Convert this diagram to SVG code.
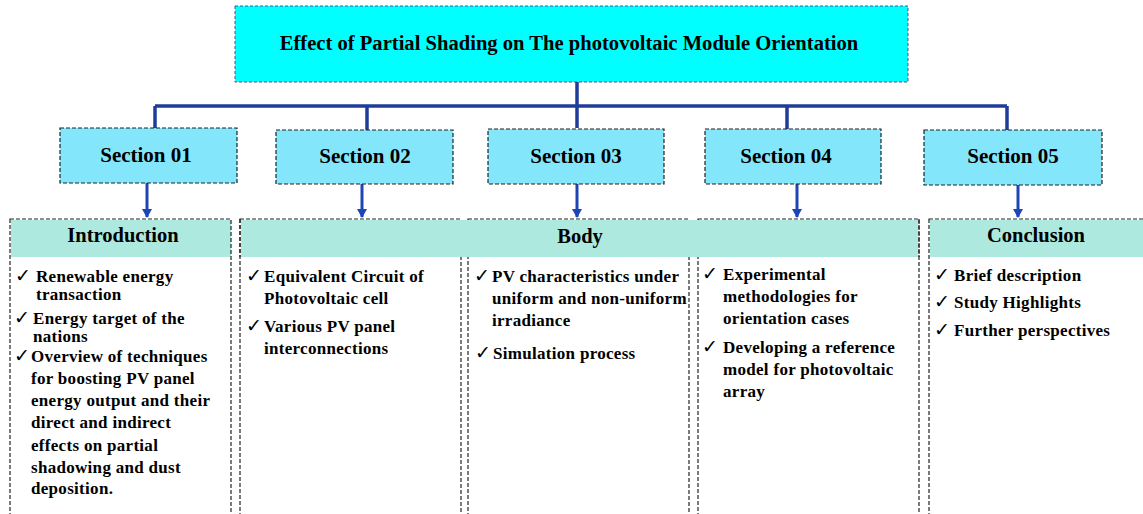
<svg xmlns="http://www.w3.org/2000/svg" width="1143" height="514" viewBox="0 0 1143 514">
<defs>
<marker id="ah" markerWidth="10" markerHeight="10" refX="8" refY="5" orient="auto" markerUnits="userSpaceOnUse">
<path d="M0,0 L9,5 L0,10 Z" fill="#1c45b5"/>
</marker>
</defs>
<style>
text{font-family:'Liberation Serif','Times New Roman','DejaVu Serif',serif;font-weight:bold;fill:#000}
.title{font-size:20.6px;text-anchor:middle}
.sec{font-size:21px;text-anchor:middle}
.hdr{font-size:20.5px;text-anchor:middle}
.t{font-size:17px;letter-spacing:0.3px}
text.ck{font-family:'DejaVu Sans',sans-serif;font-weight:normal;font-size:19px}
.secbox{fill:#84e6fb;stroke:#222;stroke-width:1.2;stroke-dasharray:4 2}
.cbox{fill:#fff;stroke:#222;stroke-width:1.2;stroke-dasharray:4 2}
.hfill{fill:#aee9df}
.conn{stroke:#1f3c9b;stroke-width:3.5;fill:none}
.arr{stroke:#1c45b5;stroke-width:3;fill:none}
</style>

<g id="title">
<rect x="235" y="6" width="673" height="76" fill="#00ffff" stroke="#3a5a9a" stroke-width="1" stroke-dasharray="3 2"/>
<text class="title" x="569" y="50">Effect of Partial Shading on The photovoltaic Module Orientation</text>
</g>

<g id="connectors">
<path class="conn" d="M577,82 V128 M155,106 H1007 M155,106 V128 M367,106 V130 M787,106 V129 M1007,106 V130"/>
<line class="arr" x1="147" y1="183" x2="147" y2="217" marker-end="url(#ah)"/>
<line class="arr" x1="362" y1="184" x2="362" y2="217" marker-end="url(#ah)"/>
<line class="arr" x1="577" y1="184" x2="577" y2="217" marker-end="url(#ah)"/>
<line class="arr" x1="797" y1="184" x2="797" y2="217" marker-end="url(#ah)"/>
<line class="arr" x1="1018" y1="185" x2="1018" y2="217" marker-end="url(#ah)"/>
</g>

<g id="section01"><rect class="secbox" x="60" y="128" width="177" height="55"/><text class="sec" x="146" y="162">Section 01</text></g>
<g id="section02"><rect class="secbox" x="276" y="130" width="177" height="54"/><text class="sec" x="365" y="163">Section 02</text></g>
<g id="section03"><rect class="secbox" x="488" y="129" width="176" height="55"/><text class="sec" x="576" y="163">Section 03</text></g>
<g id="section04"><rect class="secbox" x="705" y="129" width="176" height="55"/><text class="sec" x="786" y="163">Section 04</text></g>
<g id="section05"><rect class="secbox" x="924" y="130" width="178" height="55"/><text class="sec" x="1013" y="163">Section 05</text></g>

<g id="box1">
<rect class="hfill" x="11" y="220" width="220" height="37"/>
<rect x="10" y="219" width="221" height="300" fill="none" stroke="#222" stroke-width="1.2" stroke-dasharray="4 2"/>
<text class="hdr" x="123" y="242">Introduction</text>
<text class="ck" x="15" y="282">✓</text><text class="t" x="36" y="282">Renewable energy</text>
<text class="t" x="36" y="300">transaction</text>
<text class="ck" x="14" y="324">✓</text><text class="t" x="33" y="324">Energy target of the</text>
<text class="t" x="33" y="342">nations</text>
<text class="ck" x="14" y="362">✓</text><text class="t" x="31" y="362">Overview of techniques</text>
<text class="t" x="31" y="384">for boosting PV panel</text>
<text class="t" x="31" y="406">energy output and their</text>
<text class="t" x="31" y="428">direct and indirect</text>
<text class="t" x="31" y="451">effects on partial</text>
<text class="t" x="31" y="473">shadowing and dust</text>
<text class="t" x="31" y="494">deposition.</text>
</g>

<g id="box2">
<rect class="cbox" x="240" y="219" width="221" height="300"/>
</g>
<g id="box3">
<rect class="cbox" x="468" y="219" width="221" height="300"/>
</g>
<g id="box4">
<rect class="cbox" x="698" y="219" width="221" height="300"/>
</g>
<g id="bodyheader">
<rect class="hfill" x="241" y="220" width="677" height="37"/>
<path d="M240,219 V257 M919,219 V257" stroke="#222" stroke-width="1.2" stroke-dasharray="4 2"/>
<text class="hdr" x="580" y="243">Body</text>
</g>
<g id="box2text">
<text class="ck" x="246" y="282">✓</text><text class="t" x="264" y="282">Equivalent Circuit of</text>
<text class="t" x="264" y="304">Photovoltaic cell</text>
<text class="ck" x="246" y="332">✓</text><text class="t" x="264" y="332">Various PV panel</text>
<text class="t" x="264" y="354">interconnections</text>
</g>
<g id="box3text">
<text class="ck" x="474" y="282">✓</text><text class="t" x="492" y="282">PV characteristics under</text>
<text class="t" x="492" y="304">uniform and non-uniform</text>
<text class="t" x="492" y="326">irradiance</text>
<text class="ck" x="475" y="359">✓</text><text class="t" x="493" y="359">Simulation process</text>
</g>
<g id="box4text">
<text class="ck" x="702" y="280">✓</text><text class="t" x="723" y="280">Experimental</text>
<text class="t" x="723" y="302">methodologies for</text>
<text class="t" x="723" y="324">orientation cases</text>
<text class="ck" x="702" y="353">✓</text><text class="t" x="723" y="353">Developing a reference</text>
<text class="t" x="723" y="375">model for photovoltaic</text>
<text class="t" x="723" y="397">array</text>
</g>

<g id="box5">
<rect class="hfill" x="930" y="220" width="215" height="37"/>
<rect x="929" y="219" width="230" height="300" fill="none" stroke="#222" stroke-width="1.2" stroke-dasharray="4 2"/>
<text class="hdr" x="1036" y="242">Conclusion</text>
<text class="ck" x="934" y="281">✓</text><text class="t" x="954" y="281">Brief description</text>
<text class="ck" x="934" y="308">✓</text><text class="t" x="954" y="308">Study Highlights</text>
<text class="ck" x="934" y="336">✓</text><text class="t" x="954" y="336">Further perspectives</text>
</g>
</svg>
